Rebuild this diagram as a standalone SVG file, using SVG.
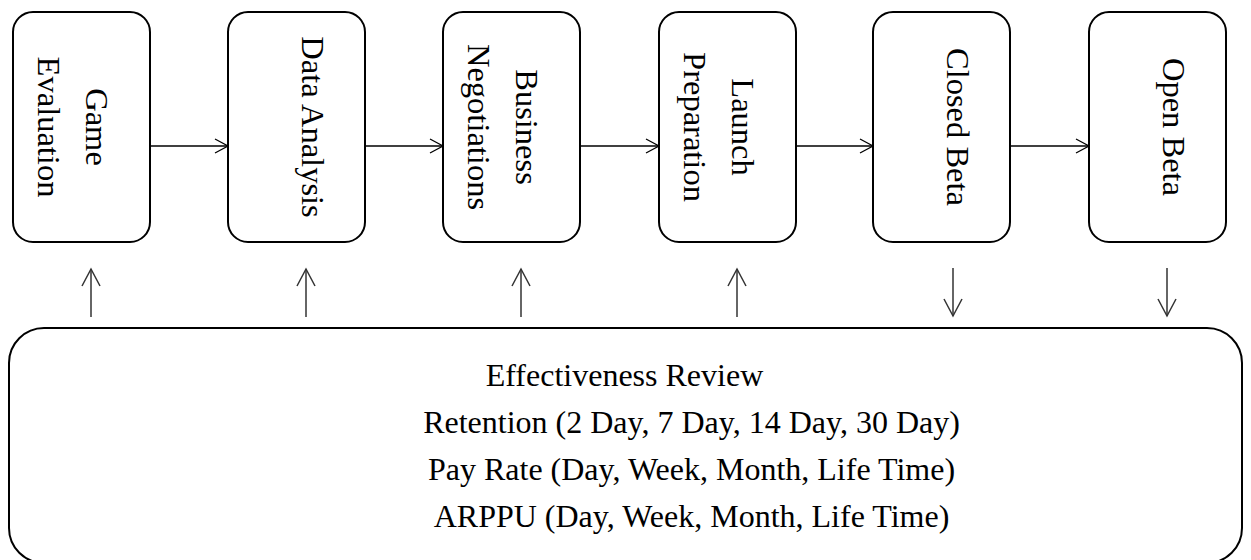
<svg xmlns="http://www.w3.org/2000/svg" width="1251" height="560" viewBox="0 0 1251 560">
  <style>
    .box { fill: #ffffff; stroke: #000000; stroke-width: 2; }
    .lbl { font-family: "Liberation Serif", "Times New Roman", serif; font-size: 32.5px; fill: #000000; text-anchor: middle; }
    .btxt { font-family: "Liberation Serif", "Times New Roman", serif; font-size: 32px; fill: #000000; text-anchor: middle; }
    .hconn { stroke: #000000; stroke-width: 1.3; fill: none; marker-end: url(#hhead); }
    .vconn { stroke: #333333; stroke-width: 1.5; fill: none; marker-end: url(#vhead); }
  </style>
  <defs>
    <marker id="hhead" markerUnits="userSpaceOnUse" markerWidth="16" markerHeight="18" refX="14" refY="8" orient="auto">
      <path d="M1,1 L14,8 L1,15" fill="none" stroke="#000000" stroke-width="1.3"/>
    </marker>
    <marker id="vhead" markerUnits="userSpaceOnUse" markerWidth="20" markerHeight="22" refX="18" refY="10" orient="auto">
      <path d="M1,1 L18,10 L1,19" fill="none" stroke="#333333" stroke-width="1.5"/>
    </marker>
  </defs>

  <g id="connectors">
    <line class="hconn" x1="150" y1="146" x2="228" y2="146"/>
    <line class="hconn" x1="365" y1="146" x2="443" y2="146"/>
    <line class="hconn" x1="580" y1="146" x2="659" y2="146"/>
    <line class="hconn" x1="796" y1="146" x2="873" y2="146"/>
    <line class="hconn" x1="1010" y1="146" x2="1089" y2="146"/>
    <line class="vconn" x1="91" y1="317" x2="91" y2="269"/>
    <line class="vconn" x1="306" y1="317" x2="306" y2="269"/>
    <line class="vconn" x1="521" y1="317" x2="521" y2="269"/>
    <line class="vconn" x1="737" y1="317" x2="737" y2="269"/>
    <line class="vconn" x1="953" y1="268" x2="953" y2="316"/>
    <line class="vconn" x1="1167" y1="268" x2="1167" y2="316"/>
  </g>

  <g id="game-evaluation">
    <rect class="box" x="13" y="12" width="137" height="230" rx="20" ry="20"/>
    <text class="lbl" transform="translate(86,127) rotate(90)" x="0" y="0">Game</text>
    <text class="lbl" transform="translate(38,127) rotate(90)" x="0" y="0">Evaluation</text>
  </g>

  <g id="data-analysis">
    <rect class="box" x="228" y="12" width="137" height="230" rx="20" ry="20"/>
    <text class="lbl" transform="translate(302,127) rotate(90)" x="0" y="0">Data Analysis</text>
  </g>

  <g id="business-negotiations">
    <rect class="box" x="443" y="12" width="137" height="230" rx="20" ry="20"/>
    <text class="lbl" transform="translate(516,127) rotate(90)" x="0" y="0">Business</text>
    <text class="lbl" transform="translate(468,127) rotate(90)" x="0" y="0">Negotiations</text>
  </g>

  <g id="launch-preparation">
    <rect class="box" x="659" y="12" width="137" height="230" rx="20" ry="20"/>
    <text class="lbl" transform="translate(732,127) rotate(90)" x="0" y="0">Launch</text>
    <text class="lbl" transform="translate(684,127) rotate(90)" x="0" y="0">Preparation</text>
  </g>

  <g id="closed-beta">
    <rect class="box" x="873" y="12" width="137" height="230" rx="20" ry="20"/>
    <text class="lbl" transform="translate(947,127) rotate(90)" x="0" y="0">Closed Beta</text>
  </g>

  <g id="open-beta">
    <rect class="box" x="1089" y="12" width="137" height="230" rx="20" ry="20"/>
    <text class="lbl" transform="translate(1163,127) rotate(90)" x="0" y="0">Open Beta</text>
  </g>

  <g id="effectiveness-review">
    <rect class="box" x="9" y="328" width="1233" height="235" rx="35" ry="35"/>
    <text class="btxt" x="624.5" y="386">Effectiveness Review</text>
    <text class="btxt" x="691.5" y="433">Retention (2 Day, 7 Day, 14 Day, 30 Day)</text>
    <text class="btxt" x="691.5" y="480">Pay Rate (Day, Week, Month, Life Time)</text>
    <text class="btxt" x="691.5" y="527">ARPPU (Day, Week, Month, Life Time)</text>
  </g>
</svg>
